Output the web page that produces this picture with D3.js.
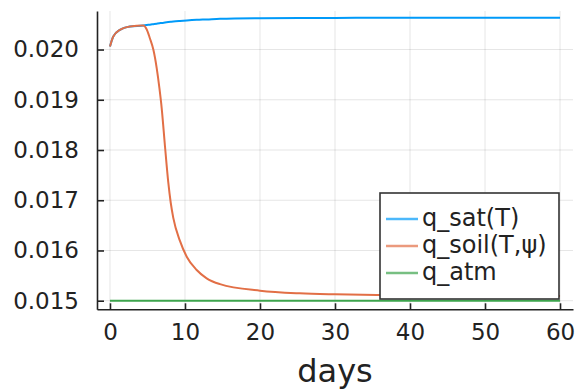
<!DOCTYPE html>
<html>
<head>
<meta charset="utf-8">
<script src="https://cdn.jsdelivr.net/npm/d3@7"></script>
<style>
body { margin: 0; background: #fff; }
text { font-family: "DejaVu Sans", sans-serif; fill: #222; }
</style>
</head>
<body>
<div id="chart"></div>
<script>
// data
var days = [0, 0.44, 1.33, 2.67, 4.44, 4.9, 5.33, 5.78, 6.23, 6.6, 6.89, 7.33, 7.77, 8.1, 8.44, 9.33, 10.23, 11.56, 12.89, 14.67, 20, 25.3, 30, 35.6, 40, 50, 60]
var qSat = [0.02006, 0.02026, 0.02039, 0.020458, 0.02048, 0.02049, 0.020495, 0.020505, 0.020515, 0.020523, 0.02053, 0.020538, 0.020546, 0.020552, 0.020558, 0.02057, 0.02058, 0.020592, 0.0206, 0.020612, 0.020625, 0.020629, 0.02063, 0.020632, 0.020633, 0.020633, 0.020633]
var qSoil = [0.02006, 0.02026, 0.02039, 0.020458, 0.02048, 0.0204, 0.02022, 0.02, 0.01963, 0.01922, 0.01884, 0.01808, 0.01736, 0.01695, 0.01665, 0.01619, 0.015876, 0.015612, 0.015446, 0.01533, 0.0152, 0.015147, 0.015127, 0.015114, 0.015105, 0.015097, 0.015092]
var qAtm = [0.015, 0.015, 0.015, 0.015, 0.015, 0.015, 0.015, 0.015, 0.015, 0.015, 0.015, 0.015, 0.015, 0.015, 0.015, 0.015, 0.015, 0.015, 0.015, 0.015, 0.015, 0.015, 0.015, 0.015, 0.015, 0.015, 0.015]
var seriesNames = ["q_sat(T)", "q_soil(T,ψ)", "q_atm"]
var colors = ["#009AF9", "#E26F46", "#3DA44D"]
var xTicks = [0, 10, 20, 30, 40, 50, 60]
var yTicks = [0.015, 0.016, 0.017, 0.018, 0.019, 0.020]

var width = 578, height = 391
var svg = d3.select("#chart").append("svg")
    .attr("width", width)
    .attr("height", height)

var x = d3.scaleLinear().domain([-1.73, 61.73]).range([97, 573])
var y = d3.scaleLinear().domain([0.014829, 0.020767]).range([309.3, 11])

// grid
svg.append("g").selectAll("line").data(xTicks).enter().append("line")
    .attr("x1", d => x(d)).attr("x2", d => x(d))
    .attr("y1", y.range()[0]).attr("y2", y.range()[1])
    .attr("stroke", "#000").attr("stroke-opacity", 0.1).attr("stroke-width", 1)
svg.append("g").selectAll("line").data(yTicks).enter().append("line")
    .attr("x1", x.range()[0]).attr("x2", x.range()[1])
    .attr("y1", d => y(d)).attr("y2", d => y(d))
    .attr("stroke", "#000").attr("stroke-opacity", 0.1).attr("stroke-width", 1)

// series
var series = [qSat, qSoil, qAtm]
var line = d3.line()
    .x((d, i) => x(days[i]))
    .y(d => y(d))
    .curve(d3.curveMonotoneX)
series.forEach(function(s, k) {
    svg.append("path")
        .datum(s)
        .attr("d", line)
        .attr("fill", "none")
        .attr("stroke", colors[k])
        .attr("stroke-width", 2)
})

// axes
var xAxis = svg.append("g")
    .attr("transform", "translate(0," + y.range()[0] + ")")
    .call(d3.axisBottom(x).tickValues(xTicks).tickSize(-6).tickPadding(14).tickSizeOuter(0))
var yAxis = svg.append("g")
    .attr("transform", "translate(" + x.range()[0] + ",0)")
    .call(d3.axisLeft(y).tickValues(yTicks).tickFormat(d3.format(".3f")).tickSize(-7).tickPadding(18).tickSizeOuter(0))
;[xAxis, yAxis].forEach(function(a) {
    a.select(".domain").attr("stroke", "#222").attr("stroke-width", 1.6)
    a.selectAll(".tick line").attr("stroke", "#222").attr("stroke-width", 1.6)
    a.selectAll(".tick text").style("font-size", "23px").attr("fill", "#222")
})

svg.append("text")
    .attr("x", (x.range()[0] + x.range()[1]) / 2)
    .attr("y", 382)
    .attr("text-anchor", "middle")
    .style("font-size", "32px")
    .text("days")

// legend
var legend = svg.append("g")
legend.append("rect")
    .attr("x", 380).attr("y", 193).attr("width", 179).attr("height", 106)
    .attr("fill", "#fff").attr("stroke", "#333").attr("stroke-width", 1.6)
seriesNames.forEach(function(name, k) {
    var ly = 219 + k * 27
    legend.append("line")
        .attr("x1", 386).attr("x2", 418).attr("y1", ly).attr("y2", ly)
        .attr("stroke", colors[k]).attr("stroke-width", 2.5).attr("stroke-opacity", 0.7)
    legend.append("text")
        .attr("x", 422).attr("y", ly)
        .attr("dy", "0.3em")
        .style("font-size", "24px")
        .text(name)
})
</script>
</body>
</html>
